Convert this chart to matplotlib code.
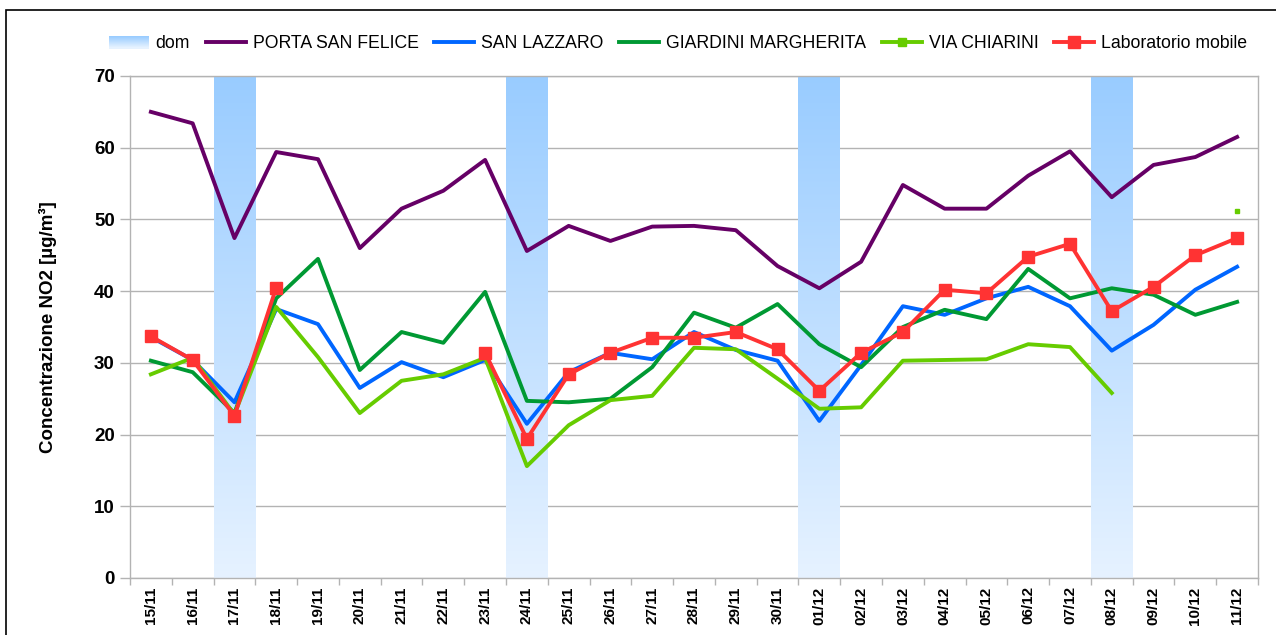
import numpy as np
import matplotlib
matplotlib.use("Agg")
import matplotlib.pyplot as plt
from matplotlib.patches import Rectangle
from matplotlib.legend_handler import HandlerBase
from matplotlib.lines import Line2D

plt.rcParams['font.family'] = ['Liberation Sans', 'DejaVu Sans']

dates = ["15/11", "16/11", "17/11", "18/11", "19/11", "20/11", "21/11", "22/11", "23/11",
         "24/11", "25/11", "26/11", "27/11", "28/11", "29/11", "30/11", "01/12", "02/12",
         "03/12", "04/12", "05/12", "06/12", "07/12", "08/12", "09/12", "10/12", "11/12"]
sundays = ["17/11", "24/11", "01/12", "08/12"]
dom_value = 70

porta_san_felice = [65.0, 63.4, 47.4, 59.4, 58.4, 46.0, 51.5, 54.0, 58.3, 45.6, 49.1, 47.0, 49.0,
                    49.1, 48.5, 43.5, 40.4, 44.1, 54.8, 51.5, 51.5, 56.1, 59.5, 53.1, 57.6, 58.7, 61.5]
san_lazzaro = [33.6, 30.4, 24.5, 37.5, 35.4, 26.5, 30.1, 28.0, 30.4, 21.5, 28.7, 31.4, 30.5,
               34.3, 31.8, 30.3, 21.9, 29.7, 37.9, 36.7, 39.0, 40.6, 37.9, 31.7, 35.3, 40.2, 43.4]
giardini_margherita = [30.3, 28.7, 23.0, 39.0, 44.5, 29.0, 34.3, 32.8, 39.9, 24.7, 24.5, 25.0, 29.4,
                       37.0, 34.9, 38.2, 32.6, 29.4, 35.0, 37.4, 36.1, 43.1, 39.0, 40.4, 39.5, 36.7, 38.5]
via_chiarini = [28.4, 30.7, 22.8, 37.8, 30.8, 23.0, 27.5, 28.4, 30.7, 15.6, 21.3, 24.8, 25.4,
                32.1, 31.9, 27.8, 23.6, 23.8, 30.3, 30.4, 30.5, 32.6, 32.2, 25.8, None, None, 51.2]
laboratorio_mobile = [33.7, 30.4, 22.6, 40.5, None, None, None, None, 31.4, 19.4, 28.4, 31.4, 33.5,
                      33.5, 34.3, 31.9, 26.1, 31.4, 34.3, 40.2, 39.7, 44.8, 46.6, 37.2, 40.6, 45.0, 47.4]

def arr(v):
    return np.array([np.nan if x is None else x for x in v], dtype=float)

W, H = 1276, 635
fig = plt.figure(figsize=(W / 100, H / 100), dpi=100)
ax = fig.add_axes([130 / W, 1 - 578 / H, (1258 - 130) / W, (578 - 76) / H])

x = np.arange(len(dates))
top_c = np.array([0x99, 0xcc, 0xff]) / 255
bot_c = np.array([0xe6, 0xf2, 0xff]) / 255
grad = np.linspace(0, 1, 256)[:, None]
grad_img = (top_c[None, None, :] * (1 - grad[:, :, None]) + bot_c[None, None, :] * grad[:, :, None])
for s in sundays:
    i = dates.index(s)
    ax.imshow(grad_img, extent=[i - 0.5, i + 0.5, 0, dom_value], aspect='auto', zorder=1,
              interpolation='bilinear')

lw = 2.8
ax.plot(x, arr(porta_san_felice), color='#660066', lw=lw, zorder=3)
ax.plot(x, arr(san_lazzaro), color='#0066ff', lw=lw, zorder=3)
ax.plot(x, arr(giardini_margherita), color='#009933', lw=lw, zorder=3)
vc = arr(via_chiarini)
isolated = [i for i in range(len(vc)) if not np.isnan(vc[i])
            and (i == 0 or np.isnan(vc[i - 1])) and (i == len(vc) - 1 or np.isnan(vc[i + 1]))]
ax.plot(x, vc, color='#66cc00', lw=lw, zorder=3, marker='s', markersize=2.6,
        markevery=isolated)
ax.plot(x, arr(laboratorio_mobile), color='#ff3333', lw=lw, zorder=4, marker='s', markersize=9)

ax.set_xlim(-0.5, len(dates) - 0.5)
ax.set_ylim(0, 70)
ax.set_yticks(np.arange(0, 71, 10))
ax.yaxis.grid(True, color='#b3b3b3', lw=1)
ax.set_axisbelow(True)
ax.set_xticks(x)
ax.set_xticklabels(dates, rotation=90, fontsize=11, fontweight='bold')
ax.set_xticks(np.arange(-0.5, len(dates), 1), minor=True)
ax.tick_params(axis='x', which='major', length=0, pad=6)
ax.tick_params(axis='x', which='minor', length=5, color='#b3b3b3', width=1)
ax.tick_params(axis='y', length=7, color='#b3b3b3', width=1, labelsize=13.5, pad=4)
for lab in ax.get_yticklabels():
    lab.set_fontweight('bold')
for sp in ax.spines.values():
    sp.set_color('#b3b3b3')
    sp.set_linewidth(1)
ax.set_ylabel('Concentrazione NO2 [µg/m³]', fontsize=13.5, fontweight='bold')
ax.yaxis.set_label_coords((57 - 130) / (1258 - 130), 0.5)


class GradientHandler(HandlerBase):
    def create_artists(self, legend, orig_handle, xdescent, ydescent, width, height, fontsize, trans):
        arts = []
        n = 12
        for k in range(n):
            t = k / (n - 1)
            c = top_c * (1 - t) + bot_c * t
            r = Rectangle((-xdescent, -ydescent + height * (1 - (k + 1) / n)), width, height / n,
                          facecolor=c, edgecolor='none', transform=trans)
            arts.append(r)
        return arts


dom_handle = Rectangle((0, 0), 1, 1)
handles = [dom_handle,
           Line2D([], [], color='#660066', lw=lw),
           Line2D([], [], color='#0066ff', lw=lw),
           Line2D([], [], color='#009933', lw=lw),
           Line2D([], [], color='#66cc00', lw=lw, marker='s', markersize=6),
           Line2D([], [], color='#ff3333', lw=lw, marker='s', markersize=9)]
labels = ['dom', 'PORTA SAN FELICE', 'SAN LAZZARO', 'GIARDINI MARGHERITA', 'VIA CHIARINI',
          'Laboratorio mobile']
fig.legend(handles, labels, loc='center', bbox_to_anchor=(678 / W, 1 - 44 / H), ncol=6,
           frameon=False, fontsize=12.7, handlelength=2.27, handletextpad=0.38, columnspacing=0.9,
           handler_map={Rectangle: GradientHandler()})

fig.add_artist(Rectangle((6 / W, -0.1), 1.5, 1 - 10 / H + 0.1, transform=fig.transFigure,
                         fill=False, edgecolor='black', lw=1.2))

fig.savefig('out.png', dpi=100)
